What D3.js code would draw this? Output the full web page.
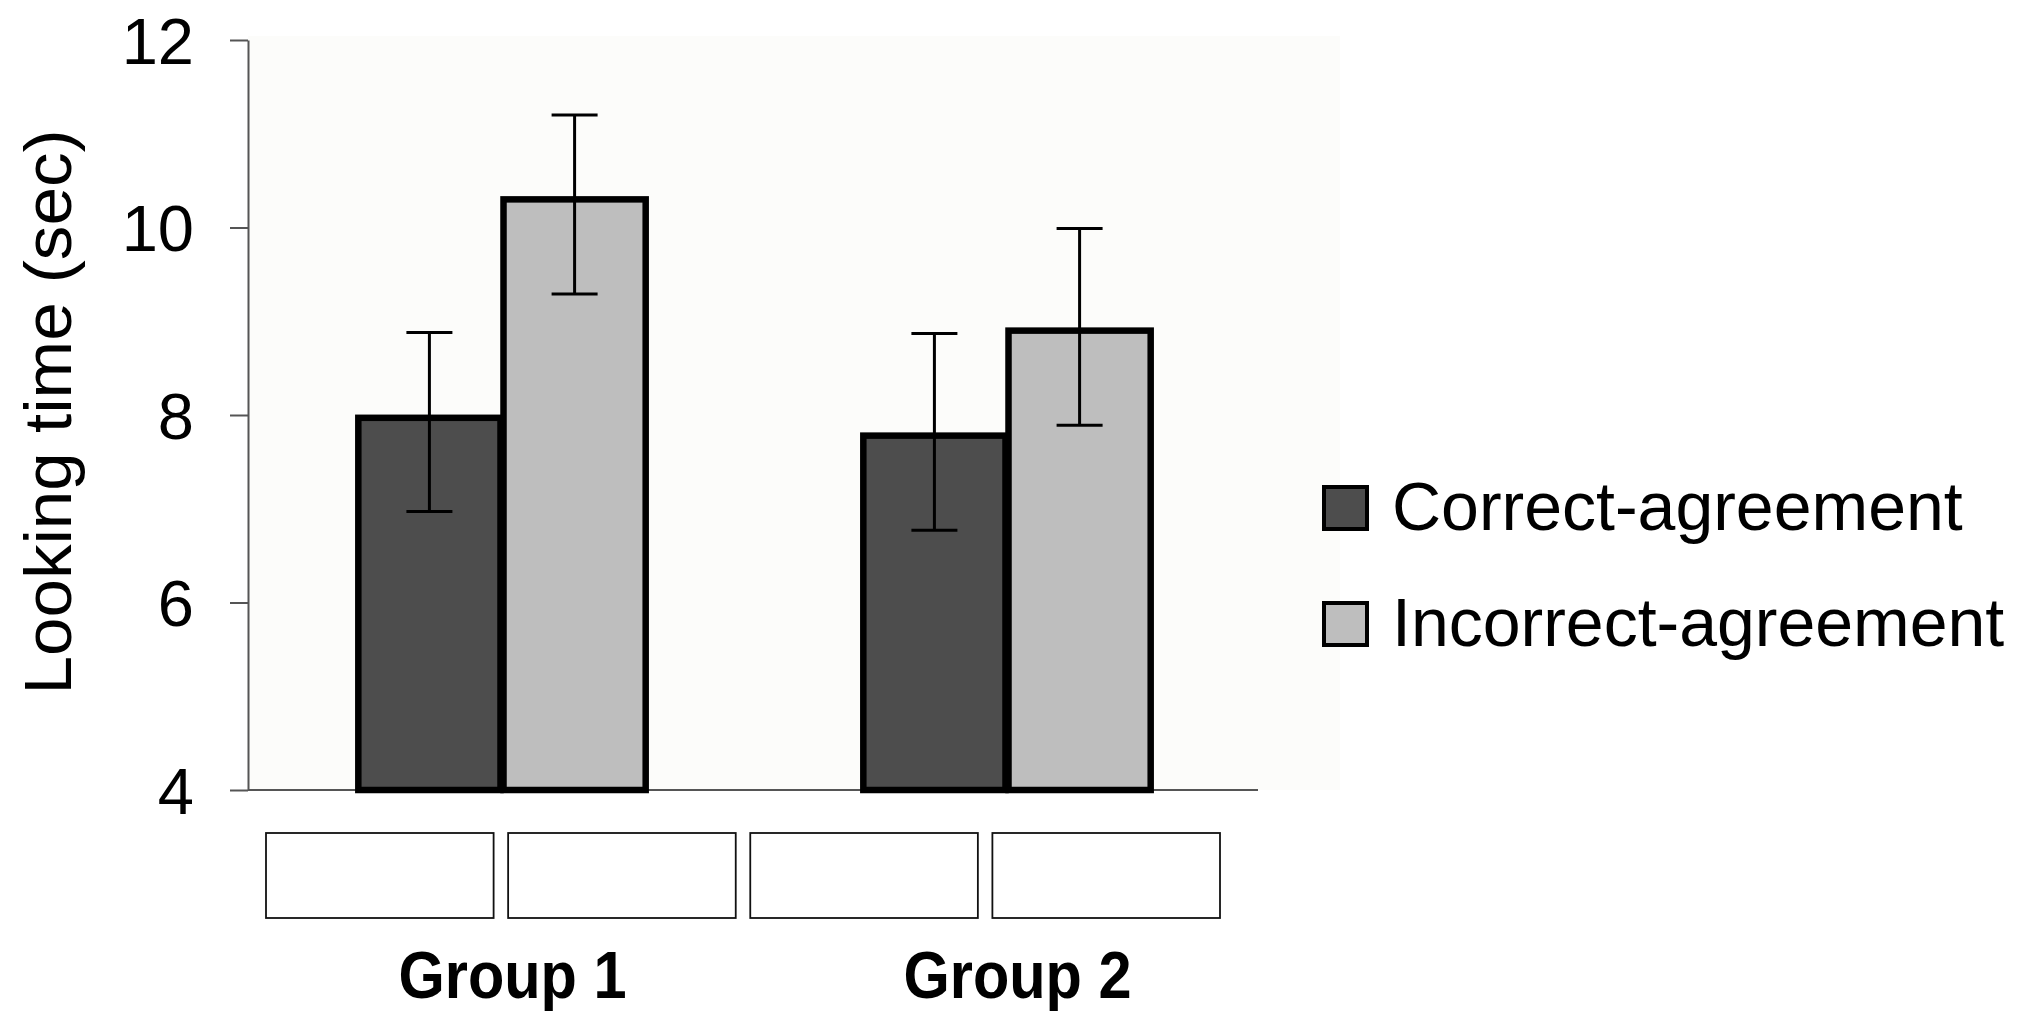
<!DOCTYPE html>
<html>
<head>
<meta charset="utf-8">
<script src="https://cdn.jsdelivr.net/npm/d3@7"></script>
<style>
  html, body { margin: 0; padding: 0; background: #fff; }
  svg text { font-family: "Liberation Sans", Arial, Helvetica, sans-serif; fill: #000; }
</style>
</head>
<body>
<svg id="chart"></svg>
<script>
;(() => {

    // data
    const groups = ['Group 1', 'Group 2'];
    const seriesNames = ['Correct-agreement', 'Incorrect-agreement'];
    const seriesColors = ['#4d4d4d', '#bebebe'];
    const correctMean = [7.97, 7.78];
    const correctLow = [6.97, 6.77];
    const correctHigh = [8.88, 8.87];
    const incorrectMean = [10.3, 8.9];
    const incorrectLow = [9.29, 7.89];
    const incorrectHigh = [11.2, 9.99];
    const yTicks = [4, 6, 8, 10, 12];
    // the blank label boxes under the bars
    const blankBoxes = ['a', 'b', 'c', 'd'];

    const width = 2034;
    const height = 1011;
    const axisX = 248;
    const plotRight = 1258;
    const plotTop = 40;
    const plotBottom = 790;

    const svg = d3.select('#chart')
        .attr('width', width)
        .attr('height', height);

    // very faint plot background
    svg.append('rect')
        .attr('x', axisX).attr('y', 36)
        .attr('width', 1340 - axisX).attr('height', plotBottom - 36)
        .attr('fill', '#fcfcfa');

    const y = d3.scaleLinear().domain([4, 12]).range([plotBottom, plotTop]);

    const x0 = d3.scaleBand()
        .domain(groups)
        .range([axisX, plotRight])
        .paddingInner(0.425)
        .paddingOuter(0.2125);

    const x1 = d3.scaleBand()
        .domain(seriesNames)
        .range([0, x0.bandwidth()]);

    const rows = groups.map((g, i) => ({
        group: g,
        values: [
            { name: seriesNames[0], mean: correctMean[i], lo: correctLow[i], hi: correctHigh[i], color: seriesColors[0] },
            { name: seriesNames[1], mean: incorrectMean[i], lo: incorrectLow[i], hi: incorrectHigh[i], color: seriesColors[1] }
        ]
    }));

    // y axis
    const yAxis = svg.append('g')
        .attr('transform', `translate(${axisX},0)`)
        .call(d3.axisLeft(y).tickValues(yTicks).tickSize(18).tickSizeOuter(0).tickPadding(36));
    yAxis.select('.domain').attr('stroke', '#555').attr('stroke-width', 2);
    yAxis.selectAll('.tick line').attr('stroke', '#555').attr('stroke-width', 2);
    yAxis.selectAll('.tick text')
        .attr('font-size', 65)
        .attr('dy', '0.36em');

    // baseline
    svg.append('line')
        .attr('x1', axisX).attr('x2', plotRight)
        .attr('y1', y(4)).attr('y2', y(4))
        .attr('stroke', '#555').attr('stroke-width', 2);

    svg.append('text')
        .attr('transform', 'translate(71,412) rotate(-90)')
        .attr('text-anchor', 'middle')
        .attr('font-size', 66)
        .attr('textLength', 565)
        .attr('lengthAdjust', 'spacingAndGlyphs')
        .text('Looking time (sec)');

    // bars
    const gGroups = svg.append('g').selectAll('g')
        .data(rows)
        .join('g')
        .attr('transform', d => `translate(${x0(d.group)},0)`);

    gGroups.selectAll('rect')
        .data(d => d.values)
        .join('rect')
        .attr('x', d => x1(d.name) + 3)
        .attr('y', d => y(d.mean))
        .attr('width', x1.bandwidth() - 3)
        .attr('height', d => y(4) - y(d.mean))
        .attr('fill', d => d.color)
        .attr('stroke', '#000')
        .attr('stroke-width', 6.5);

    // error bars
    const capHalf = 23;
    const err = gGroups.selectAll('g.err')
        .data(d => d.values)
        .join('g')
        .attr('class', 'err')
        .attr('transform', d => `translate(${x1(d.name) + x1.bandwidth() / 2 + 1.5},0)`);
    err.append('line')
        .attr('y1', d => y(d.lo)).attr('y2', d => y(d.hi))
        .attr('stroke', '#000').attr('stroke-width', 3);
    err.append('line')
        .attr('x1', -capHalf).attr('x2', capHalf)
        .attr('y1', d => y(d.hi)).attr('y2', d => y(d.hi))
        .attr('stroke', '#000').attr('stroke-width', 3);
    err.append('line')
        .attr('x1', -capHalf).attr('x2', capHalf)
        .attr('y1', d => y(d.lo)).attr('y2', d => y(d.lo))
        .attr('stroke', '#000').attr('stroke-width', 3);

    // blank boxes under the axis
    const xBox = d3.scaleBand()
        .domain(blankBoxes)
        .range([266, 1220])
        .paddingInner(0.06);
    svg.append('g').selectAll('rect')
        .data(blankBoxes)
        .join('rect')
        .attr('x', d => xBox(d))
        .attr('y', 833)
        .attr('width', xBox.bandwidth())
        .attr('height', 85)
        .attr('fill', '#fff')
        .attr('stroke', '#111')
        .attr('stroke-width', 1.8);

    // group labels
    svg.append('g').selectAll('text')
        .data(groups)
        .join('text')
        .attr('x', d => x0(d) + x0.bandwidth() / 2 + 12)
        .attr('y', 998)
        .attr('text-anchor', 'middle')
        .attr('font-size', 66)
        .attr('font-weight', 'bold')
        .attr('textLength', 228)
        .attr('lengthAdjust', 'spacingAndGlyphs')
        .text(d => d);

    // legend
    const legend = svg.append('g')
        .attr('transform', 'translate(1322,485)');
    const li = legend.selectAll('g')
        .data(seriesNames)
        .join('g')
        .attr('transform', (d, i) => `translate(0,${i * 116})`);
    li.append('rect')
        .attr('x', 2).attr('y', 2)
        .attr('width', 43).attr('height', 42)
        .attr('fill', (d, i) => seriesColors[i])
        .attr('stroke', '#000')
        .attr('stroke-width', 4);
    li.append('text')
        .attr('x', 70)
        .attr('y', 45)
        .attr('font-size', 68)
        .text(d => d);

})();
</script>
</body>
</html>
